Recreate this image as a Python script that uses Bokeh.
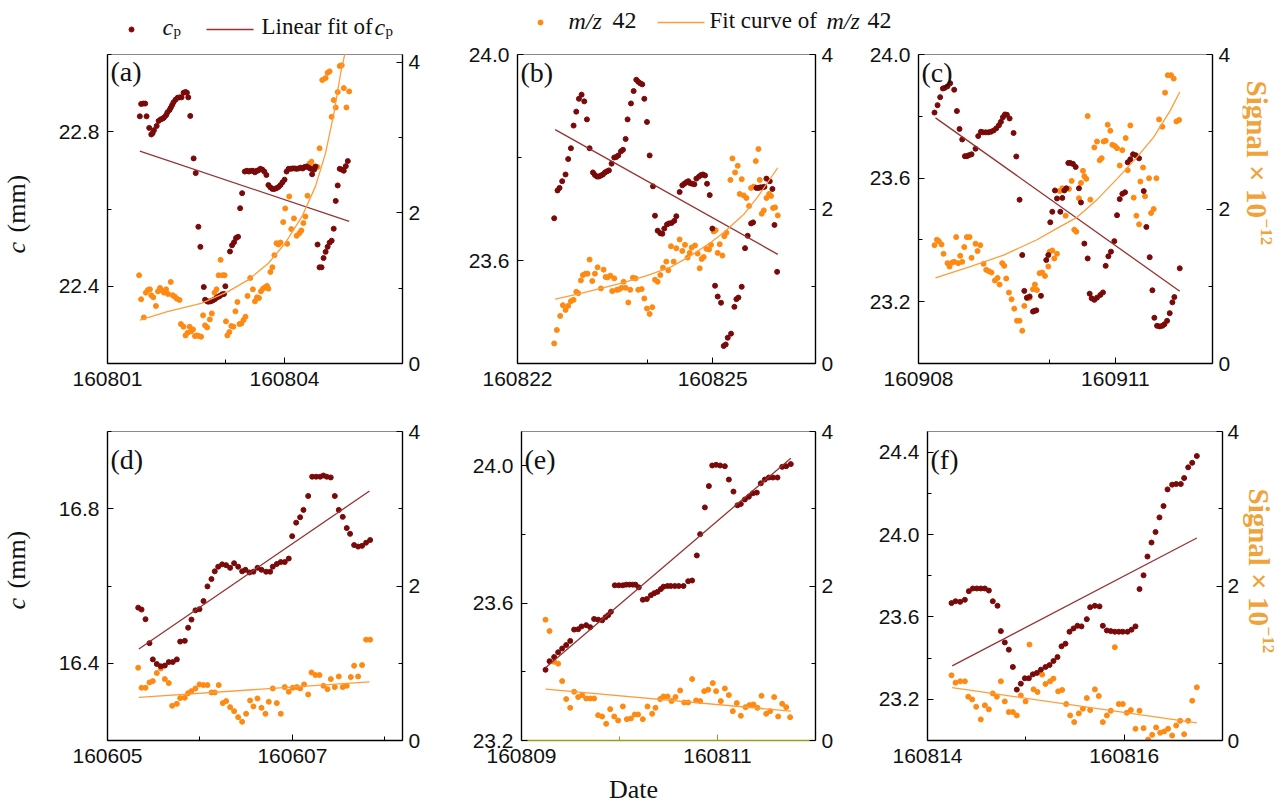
import numpy as np
from bokeh.plotting import figure
from bokeh.models import Range1d, LinearAxis, FixedTicker, PrintfTickFormatter, Label
from bokeh.layouts import column, row
from bokeh.embed import file_html
from bokeh.resources import INLINE
from bokeh.core.properties import value

# ---------------- data (x = days after first date label) ----------------
A_DATES = ["160801", "160804"]
B_DATES = ["160822", "160825"]
C_DATES = ["160908", "160911"]
D_DATES = ["160605", "160607"]
E_DATES = ["160809", "160811"]
F_DATES = ["160814", "160816"]

A_CP = [(0.548,22.840),(0.570,22.872),(0.605,22.873),(0.639,22.873),(0.662,22.840),(0.707,22.810),(0.742,22.793),(0.764,22.796),(0.787,22.804),(0.833,22.815),(0.867,22.828),(0.901,22.832),(0.936,22.834),(0.958,22.837),(0.993,22.843),(1.015,22.850),(1.050,22.856),(1.072,22.862),(1.095,22.869),(1.118,22.876),(1.152,22.883),(1.187,22.888),(1.221,22.889),(1.255,22.889),(1.289,22.901),(1.323,22.903),(1.346,22.901),(1.369,22.889),(1.403,22.841),(1.460,22.731),(1.495,22.693),(1.540,22.554),(1.574,22.502),(1.632,22.398),(1.654,22.365),(1.689,22.361),(1.711,22.360),(1.746,22.361),(1.780,22.363),(1.814,22.366),(1.848,22.370),(1.883,22.373),(1.905,22.375),(1.940,22.379),(1.974,22.380),(1.997,22.400),(2.076,22.490),(2.111,22.506),(2.145,22.514),(2.179,22.525),(2.213,22.528),(2.248,22.602),(2.282,22.641),(2.327,22.697),(2.362,22.699),(2.396,22.697),(2.430,22.699),(2.464,22.699),(2.499,22.695),(2.533,22.699),(2.556,22.700),(2.590,22.704),(2.624,22.702),(2.658,22.697),(2.693,22.688),(2.727,22.662),(2.761,22.656),(2.795,22.652),(2.829,22.652),(2.864,22.654),(2.898,22.657),(2.932,22.662),(2.966,22.669),(3.001,22.676),(3.035,22.697),(3.069,22.704),(3.103,22.704),(3.137,22.705),(3.172,22.705),(3.206,22.704),(3.240,22.705),(3.274,22.707),(3.309,22.705),(3.343,22.709),(3.377,22.710),(3.411,22.707),(3.446,22.704),(3.468,22.690),(3.503,22.702),(3.525,22.710),(3.560,22.508),(3.594,22.449),(3.628,22.449),(3.662,22.473),(3.697,22.489),(3.731,22.502),(3.765,22.513),(3.799,22.518),(3.834,22.549),(3.868,22.621),(3.902,22.661),(3.936,22.704),(3.970,22.702),(4.005,22.699),(4.039,22.711),(4.073,22.724)]
A_MZ = [(0.536,1.171),(0.570,0.852),(0.616,0.612),(0.650,0.940),(0.685,0.976),(0.719,0.984),(0.742,0.905),(0.776,0.878),(0.821,0.763),(0.856,0.958),(0.890,1.002),(0.924,0.967),(0.958,0.940),(0.993,0.984),(1.027,0.922),(1.072,1.082),(1.107,0.905),(1.141,0.887),(1.175,0.860),(1.221,0.843),(1.244,0.523),(1.289,0.488),(1.323,0.373),(1.358,0.408),(1.392,0.488),(1.415,0.426),(1.449,0.452),(1.483,0.364),(1.517,0.373),(1.552,0.364),(1.586,0.355),(1.620,0.639),(1.654,0.506),(1.689,0.479),(1.734,0.585),(1.768,0.665),(1.814,0.940),(1.848,0.984),(1.883,1.171),(1.917,1.375),(1.951,1.171),(1.985,1.171),(2.008,0.559),(2.031,0.373),(2.065,0.417),(2.099,0.497),(2.133,0.488),(2.168,0.692),(2.202,0.816),(2.236,0.523),(2.270,0.532),(2.305,0.577),(2.339,0.621),(2.373,0.896),(2.419,1.135),(2.464,0.984),(2.499,0.825),(2.533,0.878),(2.567,0.869),(2.601,0.958),(2.636,0.993),(2.670,1.011),(2.704,1.029),(2.727,0.993),(2.761,1.215),(2.795,1.277),(2.829,1.437),(2.864,1.596),(2.898,1.579),(2.932,1.605),(2.978,1.876),(3.012,2.058),(3.046,1.588),(3.080,2.217),(3.115,1.783),(3.160,1.925),(3.206,1.694),(3.252,1.729),(3.286,1.765),(3.320,1.863),(3.354,1.951),(3.389,2.226),(3.423,2.652),(3.457,2.678),(3.491,2.599),(3.525,2.599),(3.560,2.608),(3.594,2.856),(3.640,3.761),(3.697,3.787),(3.731,3.858),(3.765,3.876),(3.799,3.273),(3.834,3.495),(3.868,3.397),(3.902,3.601),(3.936,3.947),(3.970,3.956),(4.005,3.654),(4.050,3.397),(4.096,3.610)]
A_LIN = [(0.548,22.750),(4.096,22.568)]
A_FIT = [(0.548,0.577),(1.015,0.687),(1.586,0.798),(2.042,0.953),(2.385,1.109),(2.727,1.330),(3.012,1.596),(3.297,1.951),(3.525,2.350),(3.697,2.794),(3.839,3.326),(3.953,3.858),(4.027,4.124)]

B_CP = [(0.564,23.682),(0.615,23.736),(0.646,23.741),(0.687,23.754),(0.738,23.767),(0.779,23.797),(0.821,23.818),(0.862,23.862),(0.903,23.889),(0.944,23.914),(0.985,23.922),(1.026,23.909),(1.067,23.874),(1.108,23.818),(1.159,23.771),(1.190,23.766),(1.221,23.763),(1.251,23.763),(1.282,23.765),(1.313,23.767),(1.344,23.771),(1.374,23.773),(1.405,23.775),(1.446,23.788),(1.487,23.800),(1.518,23.801),(1.549,23.804),(1.590,23.812),(1.621,23.815),(1.662,23.836),(1.692,23.874),(1.744,23.905),(1.785,23.929),(1.826,23.951),(1.856,23.947),(1.887,23.944),(1.918,23.942),(1.949,23.914),(1.990,23.869),(2.031,23.804),(2.082,23.744),(2.113,23.687),(2.154,23.658),(2.195,23.653),(2.226,23.652),(2.256,23.662),(2.297,23.670),(2.328,23.672),(2.369,23.673),(2.410,23.677),(2.441,23.686),(2.492,23.733),(2.533,23.746),(2.564,23.749),(2.595,23.752),(2.626,23.754),(2.656,23.750),(2.687,23.749),(2.718,23.748),(2.749,23.759),(2.790,23.763),(2.821,23.766),(2.851,23.767),(2.882,23.765),(2.913,23.749),(2.954,23.727),(2.995,23.662),(3.036,23.551),(3.077,23.530),(3.128,23.518),(3.169,23.434),(3.200,23.437),(3.231,23.450),(3.282,23.458),(3.333,23.510),(3.364,23.525),(3.395,23.528),(3.446,23.549),(3.497,23.624),(3.538,23.648),(3.590,23.672),(3.621,23.674),(3.672,23.741),(3.703,23.741),(3.733,23.742),(3.764,23.742),(3.795,23.743),(3.826,23.759),(3.877,23.754),(3.918,23.739),(3.949,23.669),(3.990,23.578)]
B_MZ = [(0.564,0.260),(0.605,0.434),(0.656,0.616),(0.697,0.755),(0.738,0.694),(0.779,0.746),(0.821,0.807),(0.862,0.824),(0.903,0.928),(0.933,0.911),(0.974,1.076),(1.005,1.145),(1.046,1.163),(1.077,1.163),(1.108,1.345),(1.149,1.067),(1.190,1.163),(1.231,1.245),(1.282,0.972),(1.323,1.215),(1.354,1.119),(1.385,1.115),(1.426,1.137),(1.456,0.937),(1.487,1.102),(1.528,0.954),(1.559,0.959),(1.600,0.980),(1.631,1.058),(1.662,0.980),(1.703,0.790),(1.733,0.954),(1.774,1.110),(1.815,1.102),(1.856,0.954),(1.908,0.963),(1.949,0.842),(1.990,0.711),(2.031,0.642),(2.072,0.729),(2.113,1.084),(2.154,1.058),(2.195,1.145),(2.236,1.241),(2.287,1.319),(2.318,1.206),(2.359,1.518),(2.400,1.319),(2.441,1.492),(2.492,1.605),(2.533,1.457),(2.574,1.536),(2.615,1.371),(2.646,1.432),(2.677,1.501),(2.728,1.527),(2.769,1.423),(2.800,1.232),(2.831,1.353),(2.862,1.379),(2.903,1.484),(2.944,1.475),(2.974,1.536),(3.015,1.709),(3.046,1.726),(3.077,1.432),(3.108,1.544),(3.149,1.397),(3.179,1.648),(3.210,1.692),(3.272,2.377),(3.303,2.655),(3.344,2.473),(3.385,2.559),(3.415,2.195),(3.446,2.386),(3.477,2.176),(3.518,2.143),(3.559,2.039),(3.590,2.273),(3.631,2.290),(3.662,2.620),(3.703,2.776),(3.723,2.377),(3.754,1.939),(3.785,1.982),(3.826,2.143),(3.867,2.195),(3.897,2.169),(3.928,2.013),(3.959,2.021),(4.000,1.917)]
B_LIN = [(0.579,23.854),(4.000,23.612)]
B_FIT = [(0.579,0.833),(0.923,0.898),(1.282,0.972),(1.641,1.050),(2.000,1.140),(2.359,1.250),(2.667,1.397),(2.974,1.570),(3.179,1.701),(3.487,1.939),(3.692,2.156),(4.000,2.534)]

C_CP = [(0.244,23.812),(0.290,23.836),(0.330,23.862),(0.371,23.890),(0.402,23.892),(0.442,23.897),(0.483,23.907),(0.544,23.886),(0.585,23.817),(0.625,23.759),(0.666,23.725),(0.707,23.671),(0.737,23.671),(0.768,23.674),(0.808,23.677),(0.869,23.695),(0.910,23.736),(0.951,23.750),(0.981,23.748),(1.022,23.748),(1.063,23.748),(1.103,23.750),(1.144,23.754),(1.185,23.761),(1.225,23.771),(1.256,23.782),(1.286,23.797),(1.317,23.806),(1.347,23.805),(1.388,23.793),(1.449,23.746),(1.490,23.670),(1.540,23.530),(1.581,23.351),(1.612,23.235),(1.652,23.213),(1.693,23.217),(1.744,23.168),(1.764,23.170),(1.795,23.172),(1.866,23.219),(1.947,23.335),(1.978,23.351),(2.008,23.457),(2.039,23.491),(2.079,23.560),(2.110,23.534),(2.161,23.491),(2.191,23.536),(2.222,23.560),(2.252,23.567),(2.283,23.649),(2.313,23.649),(2.354,23.646),(2.395,23.636),(2.445,23.567),(2.476,23.521),(2.527,23.388),(2.578,23.340),(2.608,23.226),(2.639,23.211),(2.679,23.206),(2.720,23.213),(2.771,23.222),(2.811,23.230),(2.852,23.316),(2.893,23.347),(2.933,23.362),(2.984,23.396),(3.025,23.480),(3.066,23.532),(3.106,23.549),(3.147,23.554),(3.188,23.651),(3.228,23.661),(3.269,23.677),(3.310,23.674),(3.361,23.664),(3.432,23.558),(3.472,23.442),(3.523,23.344),(3.564,23.237),(3.594,23.148),(3.635,23.122),(3.676,23.120),(3.716,23.122),(3.747,23.127),(3.788,23.138),(3.828,23.163),(3.869,23.198),(3.899,23.215),(3.981,23.308)]
C_MZ = [(0.244,1.532),(0.280,1.602),(0.310,1.584),(0.351,1.541),(0.381,1.420),(0.442,1.299),(0.473,1.255),(0.513,1.307),(0.544,1.316),(0.574,1.636),(0.605,1.299),(0.636,1.394),(0.666,1.316),(0.697,1.507),(0.737,1.636),(0.778,1.636),(0.808,1.368),(0.869,1.550),(0.900,1.455),(0.941,1.532),(0.991,1.290),(1.032,1.212),(1.073,1.195),(1.113,1.177),(1.164,1.074),(1.205,1.108),(1.235,1.022),(1.276,1.299),(1.307,1.264),(1.337,1.100),(1.378,0.918),(1.418,0.831),(1.459,0.710),(1.500,0.554),(1.540,0.554),(1.581,0.424),(1.612,0.745),(1.652,0.848),(1.693,0.848),(1.744,0.961),(1.774,1.022),(1.805,0.952),(1.845,1.169),(1.886,1.177),(1.927,1.134),(1.978,1.255),(1.998,1.446),(2.039,1.463),(2.069,1.359),(2.110,1.420),(2.151,2.234),(2.191,2.268),(2.242,1.913),(2.293,2.260),(2.334,2.364),(2.374,1.732),(2.405,1.706),(2.445,2.139),(2.476,2.338),(2.506,2.494),(2.527,2.424),(2.557,2.390),(2.578,3.203),(2.618,2.121),(2.679,2.797),(2.720,2.874),(2.761,2.632),(2.791,2.658),(2.822,2.874),(2.852,2.883),(2.883,3.091),(2.923,3.013),(2.954,2.831),(2.994,2.814),(3.025,2.788),(3.066,2.563),(3.106,2.762),(3.157,2.918),(3.188,2.502),(3.228,3.082),(3.279,2.147),(3.320,1.913),(3.361,1.801),(3.381,2.355),(3.422,2.537),(3.452,2.164),(3.513,2.398),(3.544,1.948),(3.584,2.000),(3.625,2.398),(3.666,3.160),(3.716,3.065),(3.757,3.506),(3.798,3.732),(3.849,3.732),(3.889,3.688),(3.930,3.134),(3.971,3.152)]
C_LIN = [(0.259,23.795),(3.981,23.234)]
C_FIT = [(0.259,1.108),(0.788,1.255),(1.297,1.403),(1.805,1.602),(2.110,1.749),(2.415,1.892),(2.720,2.121),(3.025,2.390),(3.330,2.671),(3.584,2.931),(3.838,3.277),(3.981,3.515)]

D_CP = [(0.332,16.544),(0.368,16.539),(0.411,16.514),(0.454,16.452),(0.490,16.410),(0.533,16.398),(0.577,16.392),(0.620,16.394),(0.663,16.403),(0.706,16.403),(0.750,16.410),(0.786,16.456),(0.836,16.458),(0.872,16.492),(0.908,16.513),(0.951,16.537),(0.995,16.540),(1.038,16.561),(1.081,16.599),(1.124,16.618),(1.160,16.638),(1.197,16.650),(1.240,16.656),(1.283,16.654),(1.326,16.647),(1.369,16.659),(1.413,16.650),(1.456,16.638),(1.492,16.642),(1.535,16.635),(1.578,16.637),(1.622,16.647),(1.665,16.642),(1.715,16.637),(1.759,16.637),(1.787,16.650),(1.831,16.657),(1.874,16.662),(1.917,16.662),(1.960,16.671),(1.997,16.729),(2.040,16.764),(2.083,16.778),(2.119,16.797),(2.170,16.833),(2.213,16.883),(2.256,16.883),(2.299,16.883),(2.335,16.886),(2.371,16.883),(2.414,16.881),(2.458,16.833),(2.501,16.797),(2.544,16.779),(2.587,16.750),(2.623,16.735),(2.667,16.706),(2.710,16.702),(2.753,16.704),(2.796,16.712),(2.840,16.719)]
D_MZ = [(0.332,0.942),(0.368,0.683),(0.411,0.683),(0.454,0.752),(0.490,0.769),(0.533,0.873),(0.577,0.933),(0.620,0.795),(0.663,0.743),(0.699,0.449),(0.750,0.475),(0.786,0.549),(0.836,0.553),(0.872,0.613),(0.908,0.639),(0.951,0.674),(0.995,0.726),(1.038,0.717),(1.081,0.717),(1.124,0.622),(1.160,0.622),(1.203,0.717),(1.247,0.484),(1.283,0.510),(1.326,0.432),(1.369,0.380),(1.413,0.302),(1.456,0.242),(1.499,0.346),(1.542,0.518),(1.578,0.441),(1.622,0.544),(1.665,0.423),(1.708,0.346),(1.744,0.501),(1.787,0.674),(1.831,0.484),(1.874,0.346),(1.917,0.691),(1.960,0.631),(2.004,0.683),(2.047,0.691),(2.083,0.674),(2.126,0.726),(2.170,0.596),(2.206,0.881),(2.249,0.847),(2.292,0.847),(2.335,0.708),(2.379,0.665),(2.415,0.795),(2.458,0.691),(2.501,0.829),(2.544,0.691),(2.587,0.708),(2.631,0.821),(2.667,0.968),(2.710,0.829),(2.753,0.976),(2.796,1.305),(2.840,1.305)]
D_LIN = [(0.339,16.437),(2.833,16.846)]
D_FIT = [(0.339,0.557),(2.833,0.760)]

E_CP = [(0.245,23.406),(0.286,23.431),(0.333,23.443),(0.374,23.457),(0.415,23.468),(0.456,23.478),(0.497,23.490),(0.537,23.523),(0.578,23.524),(0.612,23.532),(0.660,23.536),(0.701,23.530),(0.741,23.554),(0.782,23.552),(0.823,23.550),(0.857,23.559),(0.884,23.565),(0.912,23.575),(0.952,23.652),(0.993,23.652),(1.034,23.652),(1.068,23.654),(1.102,23.654),(1.136,23.654),(1.163,23.654),(1.197,23.646),(1.238,23.610),(1.279,23.612),(1.320,23.623),(1.354,23.629),(1.388,23.633),(1.422,23.641),(1.449,23.648),(1.490,23.650),(1.524,23.650),(1.565,23.650),(1.605,23.650),(1.653,23.650),(1.701,23.664),(1.741,23.666),(1.789,23.739),(1.823,23.801),(1.871,23.879),(1.912,23.941),(1.946,24.001),(1.986,24.003),(2.027,24.001),(2.075,23.999),(2.116,23.960),(2.163,23.925),(2.204,23.885),(2.238,23.889),(2.279,23.902),(2.320,23.910),(2.361,23.920),(2.401,23.922),(2.442,23.949),(2.483,23.960),(2.524,23.966),(2.565,23.966),(2.612,23.966),(2.660,23.997),(2.701,23.999),(2.748,24.005)]
E_MZ = [(0.245,1.564),(0.286,1.417),(0.333,1.019),(0.374,0.994),(0.415,0.769),(0.456,0.536),(0.497,0.423),(0.537,0.631),(0.578,0.562),(0.619,0.588),(0.660,0.544),(0.701,0.544),(0.741,0.544),(0.782,0.328),(0.823,0.311),(0.864,0.216),(0.905,0.406),(0.946,0.311),(0.986,0.259),(1.034,0.441),(1.075,0.276),(1.116,0.285),(1.156,0.337),(1.190,0.337),(1.238,0.276),(1.286,0.441),(1.333,0.346),(1.367,0.423),(1.415,0.536),(1.449,0.570),(1.490,0.570),(1.531,0.510),(1.571,0.562),(1.619,0.648),(1.660,0.492),(1.701,0.492),(1.741,0.795),(1.782,0.518),(1.823,0.510),(1.864,0.639),(1.905,0.657),(1.952,0.743),(1.986,0.639),(2.034,0.510),(2.075,0.674),(2.116,0.588),(2.156,0.380),(2.197,0.484),(2.238,0.320),(2.286,0.432),(2.327,0.458),(2.367,0.467),(2.408,0.423),(2.449,0.579),(2.497,0.346),(2.537,0.380),(2.578,0.562),(2.619,0.311),(2.660,0.475),(2.701,0.432),(2.741,0.302)]
E_LIN = [(0.245,23.412),(2.748,24.022)]
E_FIT = [(0.245,0.665),(2.748,0.380)]

F_CP = [(0.244,23.667),(0.285,23.676),(0.332,23.673),(0.380,23.683),(0.420,23.725),(0.461,23.738),(0.502,23.738),(0.542,23.738),(0.583,23.738),(0.624,23.728),(0.664,23.676),(0.712,23.654),(0.746,23.531),(0.786,23.476),(0.827,23.441),(0.868,23.357),(0.908,23.247),(0.949,23.276),(0.990,23.302),(1.031,23.302),(1.071,23.321),(1.112,23.328),(1.153,23.344),(1.200,23.357),(1.241,23.366),(1.281,23.386),(1.322,23.405),(1.363,23.457),(1.403,23.470),(1.444,23.528),(1.485,23.544),(1.525,23.557),(1.566,23.554),(1.620,23.589),(1.654,23.647),(1.702,23.654),(1.749,23.651),(1.783,23.557),(1.824,23.534),(1.864,23.531),(1.905,23.528),(1.946,23.528),(1.986,23.528),(2.034,23.528),(2.075,23.538),(2.115,23.554),(2.156,23.735),(2.197,23.802),(2.237,23.893),(2.278,23.961),(2.319,24.012),(2.359,24.083),(2.400,24.138),(2.441,24.219),(2.488,24.242),(2.529,24.245),(2.576,24.245),(2.610,24.274),(2.651,24.326),(2.692,24.348),(2.739,24.381)]
F_MZ = [(0.244,0.844),(0.285,0.749),(0.332,0.766),(0.380,0.766),(0.414,0.567),(0.454,0.532),(0.495,0.437),(0.542,0.273),(0.583,0.455),(0.624,0.403),(0.664,0.610),(0.705,0.567),(0.746,0.766),(0.786,0.506),(0.827,0.368),(0.868,0.368),(0.908,0.325),(0.949,0.584),(0.997,0.506),(1.037,1.242),(1.078,0.662),(1.119,0.628),(1.166,0.853),(1.200,0.732),(1.247,0.766),(1.281,0.801),(1.329,0.636),(1.369,0.654),(1.410,0.472),(1.451,0.325),(1.492,0.238),(1.539,0.351),(1.580,0.411),(1.620,0.550),(1.654,0.394),(1.702,0.662),(1.742,0.576),(1.783,0.238),(1.824,0.325),(1.864,0.385),(1.905,1.208),(1.946,0.472),(1.986,0.472),(2.027,0.359),(2.068,0.394),(2.115,0.152),(2.156,0.385),(2.197,0.160),(2.244,0.013),(2.285,0.074),(2.325,0.169),(2.366,0.100),(2.407,0.117),(2.447,0.152),(2.488,0.065),(2.529,0.195),(2.569,0.255),(2.610,0.082),(2.651,0.255),(2.692,0.515),(2.739,0.688)]
F_LIN = [(0.251,23.362),(2.739,23.983)]
F_FIT = [(0.251,0.684),(2.739,0.229)]

# ---------------- styles ----------------
CP_COLOR = "#7a0a0a"
MZ_COLOR = "#ff8a12"
LIN_COLOR = "#963232"
FIT_COLOR = "#ff9d3c"
SIG_TITLE = "#f0a33a"
SERIF = "Liberation Serif"
SANS = "Liberation Sans"
FH = 309
TXT = "#111111"


def style_axis(ax, color="#000000", standoff=8):
    ax.axis_line_color = color
    ax.axis_line_width = 1.3
    ax.major_tick_line_color = color
    ax.minor_tick_line_color = color
    ax.major_tick_in = 6
    ax.major_tick_out = 0
    ax.minor_tick_in = 4
    ax.minor_tick_out = 0
    ax.major_label_text_font = SANS
    ax.major_label_text_font_size = "21px"
    ax.major_label_text_color = TXT
    ax.major_label_standoff = standoff


def panel(fw, xmax, yr, smax, borders, xticks, xminor, xlabels, yticks, yminor,
          letter, letter_dy, cp, mz, lin, fit, xaxis_color="#000000", rstand=6):
    L, R, T, B = borders
    p = figure(frame_width=fw, frame_height=FH, x_range=Range1d(0, xmax),
               y_range=Range1d(*yr), output_backend="svg", toolbar_location=None,
               min_border_left=L, min_border_right=R, min_border_top=T, min_border_bottom=B)
    p.extra_y_ranges = {"sig": Range1d(0, smax)}
    p.xgrid.visible = False
    p.ygrid.visible = False
    p.outline_line_color = "#8a8a8a"
    p.outline_line_width = 1.2

    xa = p.xaxis[0]
    xa.ticker = FixedTicker(ticks=xticks, minor_ticks=xminor)
    xa.major_label_overrides = {t: l for t, l in zip(xticks, xlabels)}
    style_axis(xa, xaxis_color, 8)

    ya = p.yaxis[0]
    ya.ticker = FixedTicker(ticks=yticks, minor_ticks=yminor)
    ya.formatter = PrintfTickFormatter(format="%.1f")
    style_axis(ya, "#000000", 8)

    ra = LinearAxis(y_range_name="sig", ticker=FixedTicker(ticks=[0, 2, 4], minor_ticks=[1, 3]))
    style_axis(ra, "#000000", rstand)
    p.add_layout(ra, "right")

    mx, my = zip(*mz)
    p.scatter(list(mx), list(my), y_range_name="sig", size=5, color=MZ_COLOR)
    cx, cy = zip(*cp)
    p.scatter(list(cx), list(cy), size=5, color=CP_COLOR)
    lx, ly = zip(*lin)
    p.line(list(lx), list(ly), color=LIN_COLOR, line_width=1.3)
    fx, fy = zip(*fit)
    p.line(list(fx), list(fy), y_range_name="sig", color=FIT_COLOR, line_width=1.3)

    p.add_layout(Label(x=3, y=FH - letter_dy, x_units="screen", y_units="screen", text=letter,
                       text_font=SERIF, text_font_size="28px", text_color=TXT,
                       text_baseline="alphabetic", text_align="left"))
    return p


def strip(w, h, x0, x1, y_top, y_bot):
    s = figure(width=w, height=h, x_range=Range1d(x0, x1), y_range=Range1d(y_bot, y_top),
               output_backend="svg", toolbar_location=None, x_axis_type=None, y_axis_type=None,
               min_border=0)
    s.outline_line_color = None
    s.xgrid.visible = False
    s.ygrid.visible = False
    return s


def put_text(s, x, y, t, size, style="normal", color=TXT, angle=0.0, align="left", baseline="alphabetic"):
    s.text(x=[x], y=[y], text=[t], angle=angle, text_font=value(SERIF), text_font_size=value(size),
           text_font_style=style, text_baseline=baseline, text_align=align, text_color=color)


# top row frames 54..363, bottom row frames 431..740 (page pixels)
pa = panel(295, 5.0, (22.2, 23.0), 4.1, (62, 50, 13, 40), [0, 3], [2, 5], A_DATES,
           [22.4, 22.8], [22.2, 22.6, 23.0], "(a)", 17, A_CP, A_MZ, A_LIN, A_FIT)
pb = panel(298, 4.58, (23.4, 24.0), 4.0, (65, 50, 13, 40), [0, 3], [2], B_DATES,
           [23.6, 24.0], [23.4, 23.8], "(b)", 18, B_CP, B_MZ, B_LIN, B_FIT)
pc = panel(294, 4.48, (23.0, 24.0), 4.0, (53, 30, 13, 40), [0, 3], [2], C_DATES,
           [23.2, 23.6, 24.0], [23.4, 23.8], "(c)", 18, C_CP, C_MZ, C_LIN, C_FIT)
pd = panel(295, 3.19, (16.2, 17.0), 4.0, (62, 50, 28, 32), [0, 2], [1, 3], D_DATES,
           [16.4, 16.8], [16.2, 16.6, 17.0], "(d)", 28, D_CP, D_MZ, D_LIN, D_FIT)
pe = panel(294, 3.0, (23.2, 24.1), 4.0, (69, 50, 28, 32), [0, 2], [1], E_DATES,
           [23.2, 23.6, 24.0], [23.4, 23.8], "(e)", 28, E_CP, E_MZ, E_LIN, E_FIT,
           xaxis_color="#9c9c22")
pf = panel(295, 3.0, (23.0, 24.5), 4.0, (62, 20, 28, 32), [0, 2], [1], F_DATES,
           [23.2, 23.6, 24.0, 24.4], [23.4, 23.8, 24.2], "(f)", 28, F_CP, F_MZ, F_LIN, F_FIT,
           rstand=5)

# ---------------- legend strip (page y 0..41) ----------------
lg = strip(1282, 41, 0, 1282, 0, 41)
lg.scatter([131], [29], size=5, color=CP_COLOR)
lg.line([206, 253], [29, 29], color=LIN_COLOR, line_width=1.3)
lg.scatter([540], [22], size=5, color=MZ_COLOR)
lg.line([657, 704], [22, 22], color=FIT_COLOR, line_width=1.3)
put_text(lg, 162, 26, "c", "24px", "italic")
put_text(lg, 173, 30, "p", "15px")
put_text(lg, 261, 26, "Linear fit of", "23px")
put_text(lg, 374, 26, "c", "24px", "italic")
put_text(lg, 385, 30, "p", "15px")
put_text(lg, 568, 20, "m/z", "24px", "italic")
put_text(lg, 612, 20, "42", "24px")
put_text(lg, 709, 20, "Fit curve of", "23px")
put_text(lg, 826, 20, "m/z", "24px", "italic")
put_text(lg, 867, 20, "42", "24px")

# ---------------- left title strip (page x 0..45, y 41..772) ----------------
ls = strip(45, 731, 0, 45, 41, 772)
for y0 in (253, 609):
    put_text(ls, 16, y0, "c", "26px", "italic", angle=np.pi / 2, baseline="middle")
    put_text(ls, 16, y0 - 21, "(mm)", "26px", angle=np.pi / 2, baseline="middle")

# ---------------- right title strip (page x 1242..1282) ----------------
rs = strip(40, 731, 1242, 1282, 41, 772)
for xb, y0 in ((1256, 80), (1258, 488)):
    put_text(rs, xb, y0, "Signal × 10", "29px", "bold", SIG_TITLE, angle=-np.pi / 2)
    put_text(rs, xb + 10, y0 + 138, "−12", "17px", "bold", SIG_TITLE, angle=-np.pi / 2)

# ---------------- bottom strip with the x title (page y 772..804) ----------------
ds = strip(1282, 32, 0, 1282, 772, 804)
put_text(ds, 633, 789, "Date", "26px", align="center")

grid = column(row(pa, pb, pc), row(pd, pe, pf))
layout = column(lg, row(ls, grid, rs), ds)
open("out.html", "w").write(file_html(layout, INLINE))
